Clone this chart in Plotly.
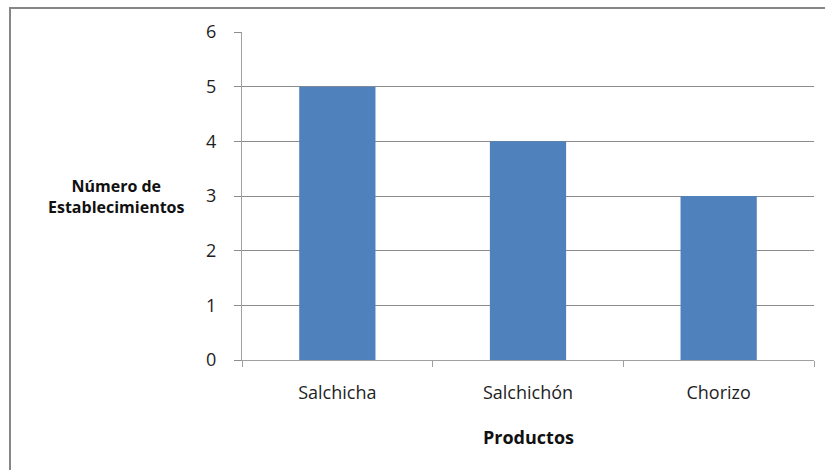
import plotly.graph_objects as go

productos = ["Salchicha", "Salchichón", "Chorizo"]
establecimientos = [5, 4, 3]
y_ticks = [0, 1, 2, 3, 4, 5, 6]

FONT = "Open Sans"
GRID = "#8c8c8c"
TEXT = "#1e1e1e"

fig = go.Figure()
fig.add_trace(go.Bar(
    x=productos,
    y=establecimientos,
    marker=dict(color="#4f81bd", line=dict(width=0)),
    width=0.4,
))

fig.update_layout(
    width=825,
    height=470,
    margin=dict(l=242, r=11, t=32, b=110),
    paper_bgcolor="white",
    plot_bgcolor="white",
    showlegend=False,
    font=dict(family=FONT, size=18, color=TEXT),
    xaxis=dict(
        type="category",
        tickson="boundaries",
        ticks="outside",
        ticklen=6,
        tickcolor="#a0a0a0",
        showline=True,
        linecolor="#a0a0a0",
        linewidth=1,
        showgrid=False,
        ticklabelstandoff=16,
        tickfont=dict(family=FONT, size=18, color=TEXT),
        range=[-0.5, 2.5],
    ),
    yaxis=dict(
        range=[0, 6],
        tickvals=y_ticks,
        ticks="outside",
        ticklen=7,
        tickcolor=GRID,
        showline=True,
        linecolor="#a0a0a0",
        linewidth=1,
        showgrid=True,
        gridcolor=GRID,
        gridwidth=1,
        zeroline=False,
        ticklabelstandoff=14,
        tickfont=dict(family=FONT, size=18, color=TEXT),
    ),
    annotations=[
        dict(
            text="<b>Número de<br>Establecimientos</b>",
            xref="paper", yref="paper",
            x=-0.219, y=0.497,
            xanchor="center", yanchor="middle",
            showarrow=False,
            align="center",
            font=dict(family=FONT, size=16, color="#111111"),
        ),
        dict(
            text="<b>Productos</b>",
            xref="paper", yref="paper",
            x=0.5, y=-0.235,
            xanchor="center", yanchor="middle",
            showarrow=False,
            font=dict(family=FONT, size=18, color="#111111"),
        ),
    ],
    shapes=[
        dict(
            type="rect",
            xref="paper", yref="paper",
            x0=-0.4056, y0=-0.5, x1=1.2, y1=1.0732,
            line=dict(color="#868686", width=2),
            fillcolor="rgba(0,0,0,0)",
            layer="below",
        )
    ],
)

fig.write_html("out.html")
